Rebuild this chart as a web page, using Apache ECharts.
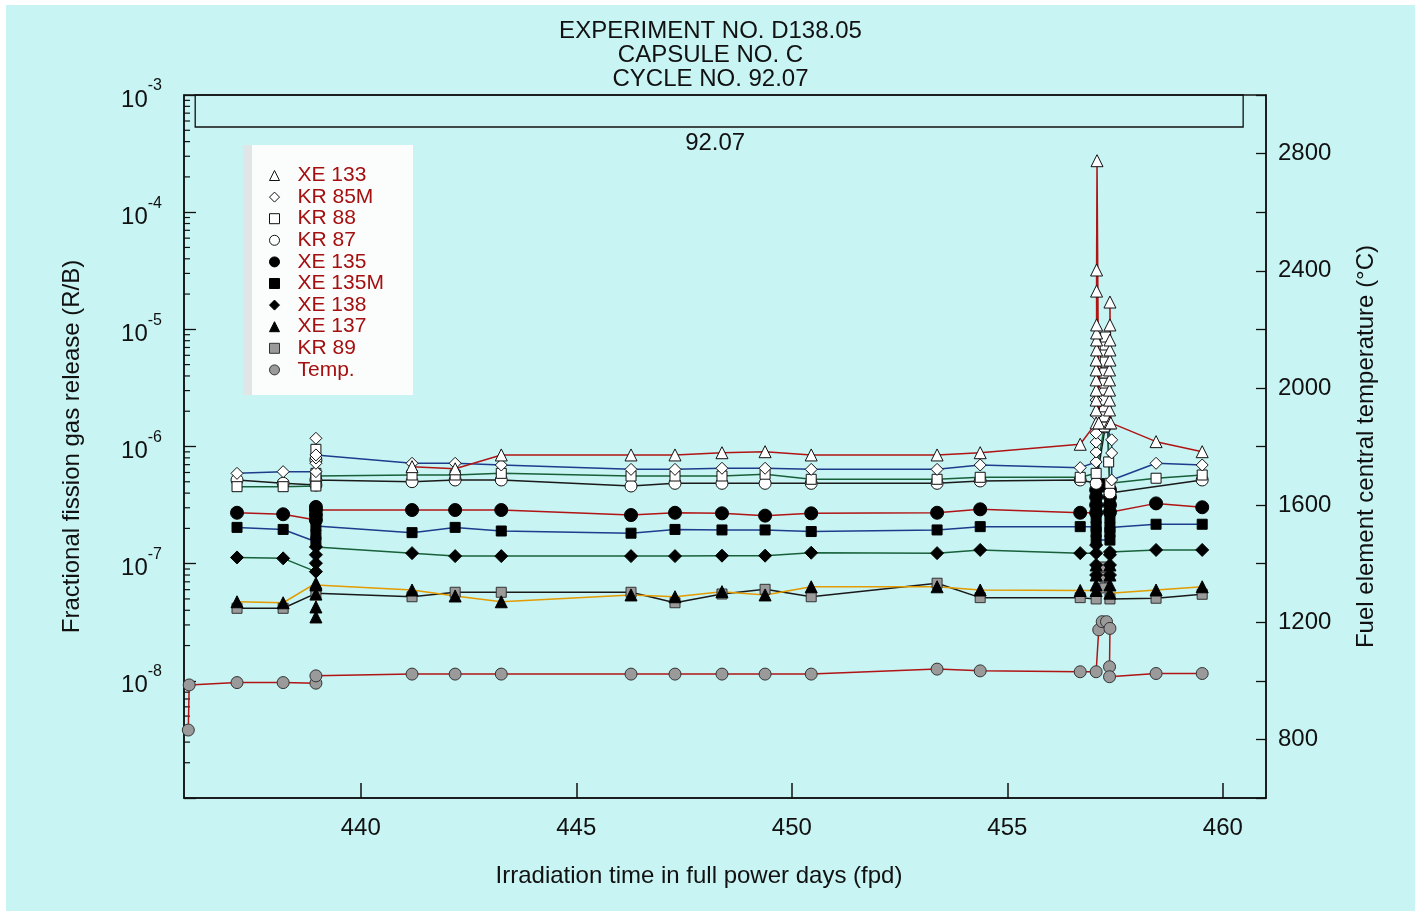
<!DOCTYPE html>
<html><head><meta charset="utf-8">
<script src="https://cdn.jsdelivr.net/npm/echarts@6/dist/echarts.min.js"></script>
<style>
html,body{margin:0;padding:0;background:#fff;}
#bg{position:absolute;left:6px;top:5px;width:1409px;height:906px;background:#c8f4f3;}
#main{position:absolute;left:0;top:0;width:1421px;height:915px;}
</style></head><body>
<div id="bg"></div><div id="main"></div>
<script>
// ---------- data ----------
const titleLines = ['EXPERIMENT NO. D138.05', 'CAPSULE NO. C', 'CYCLE NO. 92.07'];
const xTicks = [440, 445, 450, 455, 460];
const tempLabels = [800, 1200, 1600, 2000, 2400, 2800];
const decades = [-8, -7, -6, -5, -4, -3];
const bandX = [436.16, 460.47];
const bandY = [5.33e-4, 1e-3];
const bandLabel = '92.07';

const xe133 = [[441.19,6.73e-7],[442.19,6.45e-7],[443.26,8.47e-7],[446.27,8.47e-7],[447.29,8.47e-7],[448.38,8.85e-7],[449.38,9.03e-7],[450.45,8.47e-7],[453.37,8.47e-7],[454.37,8.85e-7],[456.69,1.045e-6],
 [457.06,1.59e-6],[457.06,2.05e-6],[457.06,2.49e-6],[457.06,3.03e-6],[457.06,3.70e-6],[457.06,4.50e-6],[457.06,5.47e-6],[457.07,6.67e-6],[457.07,8.11e-6],[457.07,9.31e-6],[457.07,1.09e-5],[457.07,2.12e-5],[457.07,3.21e-5],[457.08,2.75e-4],
 [457.12,1.59e-6],
 [457.37,1.59e-6],[457.37,2.05e-6],[457.37,2.49e-6],[457.37,3.03e-6],[457.37,3.70e-6],[457.37,4.50e-6],[457.38,5.47e-6],[457.38,6.67e-6],[457.38,8.11e-6],[457.38,1.09e-5],[457.38,1.71e-5],[457.40,1.59e-6],
 [458.45,1.10e-6],[459.52,9.03e-7]];
const kr85m = [[437.13,5.90e-7],[438.2,6.10e-7],[438.96,6.10e-7],[438.96,7.19e-7],[438.96,7.98e-7],[438.96,1.175e-6],[438.96,8.47e-7],[441.19,7.19e-7],[442.19,7.19e-7],[443.26,6.95e-7],[446.27,6.38e-7],[447.29,6.38e-7],[448.38,6.52e-7],[449.38,6.52e-7],[450.45,6.38e-7],[453.37,6.38e-7],[454.37,6.95e-7],[456.69,6.6e-7],
 [457.06,7.38e-7],[457.06,8.97e-7],[457.06,1.09e-6],[457.06,1.30e-6],[457.06,1.86e-6],[457.06,2.49e-6],[457.42,1.14e-6],[457.42,8.8e-7],[457.42,5.18e-7],[458.45,7.19e-7],[459.52,6.95e-7]];
const kr88 = [[437.13,4.54e-7],[438.2,4.54e-7],[438.96,4.60e-7],[438.96,5.90e-7],[438.96,9.46e-7],[438.96,5.60e-7],[441.19,5.71e-7],[442.19,5.71e-7],[443.26,5.90e-7],[446.27,5.60e-7],[447.29,5.60e-7],[448.38,5.60e-7],[449.38,5.80e-7],[450.45,5.25e-7],[453.37,5.25e-7],[454.37,5.46e-7],[456.69,5.46e-7],
 [457.06,5.90e-7],[457.25,1.47e-6],[457.25,1.79e-6],[457.25,2.49e-6],[457.26,3.48e-6],[457.26,4.24e-6],[457.27,5.26e-6],[457.27,7.35e-6],[457.28,8.6e-6],[457.35,7.38e-7],[457.38,4.85e-7],[458.45,5.36e-7],[459.52,5.71e-7]];
const kr87 = [[437.13,5.18e-7],[438.2,4.85e-7],[438.96,4.69e-7],[438.96,7.67e-7],[438.96,5.18e-7],[441.19,5.01e-7],[442.19,5.18e-7],[443.26,5.18e-7],[446.27,4.60e-7],[447.29,4.85e-7],[448.38,4.85e-7],[449.38,4.85e-7],[450.45,4.85e-7],[453.37,4.85e-7],[454.37,5.08e-7],[456.69,5.18e-7],
 [457.06,4.85e-7],[457.27,1.47e-6],[457.27,2.05e-6],[457.27,2.92e-6],[457.27,4.33e-6],[457.27,6.28e-6],[457.38,4.01e-7],[459.52,5.18e-7]];
const xe135 = [[437.13,2.72e-7],[438.2,2.64e-7],[438.96,2.36e-7],[438.96,2.60e-7],[438.96,3.05e-7],[438.96,2.87e-7],[441.19,2.87e-7],[442.19,2.87e-7],[443.26,2.87e-7],[446.27,2.60e-7],[447.29,2.72e-7],[448.38,2.69e-7],[449.38,2.57e-7],[450.45,2.69e-7],[453.37,2.72e-7],[454.37,2.91e-7],[456.69,2.72e-7],
 [457.06,2.72e-7],[457.06,3.17e-7],[457.06,3.71e-7],[457.06,4.26e-7],[457.22,4.69e-7],[457.38,4.26e-7],[457.38,3.71e-7],[457.38,3.17e-7],[457.38,2.75e-7],[458.45,3.27e-7],[459.52,3.03e-7]];
const xe135m = [[437.13,2.04e-7],[438.2,1.96e-7],[438.96,1.54e-7],[438.96,1.76e-7],[438.96,2.10e-7],[441.19,1.84e-7],[442.19,2.04e-7],[443.26,1.90e-7],[446.27,1.82e-7],[447.29,1.96e-7],[448.38,1.94e-7],[449.38,1.94e-7],[450.45,1.88e-7],[453.37,1.94e-7],[454.37,2.07e-7],[456.69,2.07e-7],
 [457.06,2.07e-7],[457.06,2.45e-7],[457.06,1.86e-7],[457.06,1.59e-7],[457.38,1.59e-7],[457.38,1.86e-7],[457.38,2.45e-7],[457.38,2.04e-7],[458.45,2.17e-7],[459.52,2.17e-7]];
const xe138 = [[437.13,1.13e-7],[438.2,1.11e-7],[438.96,8.55e-8],[438.96,1.01e-7],[438.96,1.19e-7],[438.96,1.39e-7],[441.19,1.23e-7],[442.19,1.16e-7],[443.26,1.16e-7],[446.27,1.16e-7],[447.29,1.16e-7],[448.38,1.17e-7],[449.38,1.17e-7],[450.45,1.24e-7],[453.37,1.23e-7],[454.37,1.31e-7],[456.69,1.23e-7],
 [457.06,1.23e-7],[457.06,1.44e-7],[457.06,9.75e-8],[457.06,8.0e-8],[457.38,8.0e-8],[457.38,9.75e-8],[457.38,1.19e-7],[457.38,1.26e-7],[458.45,1.31e-7],[459.52,1.31e-7]];
const xe137 = [[437.13,4.73e-8],[438.2,4.64e-8],[438.96,6.81e-8],[438.96,5.50e-8],[438.96,4.27e-8],[438.96,3.51e-8],[438.96,6.58e-8],[441.19,5.96e-8],[442.19,5.30e-8],[443.26,4.73e-8],[446.27,5.41e-8],[447.29,5.22e-8],[448.38,5.77e-8],[449.38,5.41e-8],[450.45,6.35e-8],[453.37,6.35e-8],[454.37,5.96e-8],[456.69,5.90e-8],
 [457.06,5.90e-8],[457.06,6.58e-8],[457.06,8.0e-8],[457.06,9.75e-8],[457.38,9.75e-8],[457.38,8.0e-8],[457.38,6.58e-8],[457.38,5.60e-8],[458.45,5.96e-8],[459.52,6.35e-8]];
const kr89 = [[437.13,4.16e-8],[438.2,4.16e-8],[438.96,5.58e-8],[441.19,5.22e-8],[442.19,5.70e-8],[443.26,5.70e-8],[446.27,5.70e-8],[447.29,4.64e-8],[448.38,5.51e-8],[449.38,6.04e-8],[450.45,5.22e-8],[453.37,6.81e-8],[454.37,5.13e-8],[456.69,5.13e-8],
 [457.06,5.0e-8],[457.26,6.2e-8],[457.26,7.69e-8],[457.26,9.37e-8],[457.38,5.0e-8],[458.45,5.07e-8],[459.52,5.48e-8]];
const temp = [[436.00,832],[436.02,986],[437.13,994],[438.2,994],[438.96,992],[438.96,1017],[441.19,1023],[442.19,1023],[443.26,1023],[446.27,1023],[447.29,1023],[448.38,1023],[449.38,1023],[450.45,1023],[453.37,1040],[454.37,1034],[456.69,1031],
 [457.06,1031],[457.12,1174],[457.2,1202],[457.3,1202],[457.38,1179],[457.37,1048],[457.37,1014],[458.45,1025],[459.52,1025]];

// ---------- style ----------
const FONT = '"Liberation Sans", Arial, Helvetica, sans-serif';
const INK = '#111';
const RED = '#b01414', BLUE = '#1e3c8c', GREEN = '#17603a', ORANGE = '#e39b00', BLACK = '#1a1a1a', GRAY = '#9a9a9a';

function lineSeries(name, data, symbol, size, fill, stroke, lineColor, yIdx) {
  return {
    name, type: 'line', data, yAxisIndex: yIdx || 0, symbol, symbolSize: size, showAllSymbol: true,
    itemStyle: { color: fill, borderColor: stroke, borderWidth: 1 },
    lineStyle: { color: lineColor, width: 1.5 },
    emphasis: { disabled: true }, animation: false
  };
}

// minor log ticks (2..9 x 10^k)
const minorVals = [];
for (let k = -9; k <= -4; k++) for (let m = 2; m <= 9; m++) minorVals.push(m * Math.pow(10, k));
const X_MIN = 435.9, X_MAX = 461;

const seriesList = [
  lineSeries('KR 89', kr89, 'rect', 10, GRAY, '#333', BLACK),
  lineSeries('XE 137', xe137, 'triangle', 12, '#000', '#000', ORANGE),
  lineSeries('XE 138', xe138, 'diamond', 13, '#000', '#000', GREEN),
  lineSeries('XE 135M', xe135m, 'rect', 10, '#000', '#000', BLUE),
  lineSeries('XE 135', xe135, 'circle', 13, '#000', '#000', RED),
  lineSeries('KR 87', kr87, 'circle', 12, '#fff', '#111', BLACK),
  lineSeries('KR 88', kr88, 'rect', 10, '#fff', '#111', GREEN),
  lineSeries('KR 85M', kr85m, 'diamond', 12, '#fff', '#111', BLUE),
  lineSeries('XE 133', xe133, 'triangle', 12, '#fff', '#111', RED),
  lineSeries('Temp.', temp, 'circle', 12, GRAY, '#333', RED, 1)
];
seriesList[8].markArea = {
  silent: true,
  itemStyle: { color: 'rgba(0,0,0,0)', borderColor: INK, borderWidth: 1.3 },
  label: { show: true, position: 'bottom', distance: 4, formatter: bandLabel, fontSize: 24, color: INK, fontFamily: FONT, offset: [-4, 0] },
  data: [[{ xAxis: bandX[0], yAxis: bandY[1] }, { xAxis: bandX[1], yAxis: bandY[0] }]]
};
seriesList.push({
  name: '_minor', type: 'custom', yAxisIndex: 0, silent: true, clip: false, animation: false,
  data: minorVals.map(v => [X_MIN, v]),
  renderItem(params, api) {
    const p = api.coord([api.value(0), api.value(1)]);
    return { type: 'line', shape: { x1: p[0], y1: p[1], x2: p[0] + 6, y2: p[1] }, style: { stroke: INK, lineWidth: 1.2 } };
  }
});

const legendItems = [
  ['XE 133', 'triangle'], ['KR 85M', 'diamond'], ['KR 88', 'rect'], ['KR 87', 'circle'], ['XE 135', 'circle'],
  ['XE 135M', 'rect'], ['XE 138', 'diamond'], ['XE 137', 'triangle'], ['KR 89', 'rect'], ['Temp.', 'circle']
];

const chart = echarts.init(document.getElementById('main'));
chart.setOption({
  animation: false,
  backgroundColor: 'transparent',
  textStyle: { fontFamily: FONT },
  title: {
    text: titleLines.join('\n'), left: 'center', top: 14,
    textStyle: { fontSize: 24, fontWeight: 'normal', color: INK, lineHeight: 24, fontFamily: FONT }
  },
  graphic: [
    { type: 'rect', shape: { x: 243, y: 145, width: 170, height: 250 }, style: { fill: '#fbfdfd' }, z: 1 },
    { type: 'rect', shape: { x: 243, y: 145, width: 9, height: 250 }, style: { fill: '#e0e5e5' }, z: 1 }
  ],
  legend: {
    orient: 'vertical', left: 264, top: 160, itemWidth: 10, itemHeight: 10, itemGap: 0.6, selectedMode: false, z: 5,
    itemStyle: { borderWidth: 1 },
    textStyle: { fontSize: 21, color: '#a50f0f', fontFamily: FONT, padding: [0, 0, 0, 13] },
    data: legendItems.map(d => ({ name: d[0], icon: d[1] }))
  },
  grid: { left: 184, right: 155, top: 95, bottom: 117, show: true, borderColor: INK, borderWidth: 1.5, backgroundColor: 'transparent' },
  xAxis: {
    type: 'value', min: X_MIN, max: X_MAX,
    axisLine: { lineStyle: { color: INK, width: 1.5 } },
    axisTick: { inside: true, length: 15, customValues: xTicks, lineStyle: { color: INK, width: 1.5 } },
    axisLabel: { customValues: xTicks, fontSize: 24, margin: 18, color: INK, fontFamily: FONT },
    splitLine: { show: false },
    name: 'Irradiation time in full power days (fpd)', nameLocation: 'middle', nameGap: 66,
    nameTextStyle: { fontSize: 24, color: INK, fontFamily: FONT, padding: [0, 52, 0, 0] }
  },
  yAxis: [{
    type: 'log', logBase: 10, min: 1e-9, max: 1e-3, splitNumber: 6, position: 'left',
    axisLine: { lineStyle: { color: INK, width: 1.5 } },
    axisTick: { inside: true, length: 12, lineStyle: { color: INK, width: 1.3 } },
    axisLabel: {
      margin: 22, color: INK,
      formatter: v => { const e = Math.round(Math.log10(v)); return decades.indexOf(e) >= 0 ? '{b|10}{s|' + e + '}' : ''; },
      rich: {
        b: { fontSize: 24, lineHeight: 24, padding: [10, 0, 0, 0], color: INK, fontFamily: FONT },
        s: { fontSize: 16, lineHeight: 16, padding: [0, 0, 18, 0], color: INK, fontFamily: FONT }
      }
    },
    splitLine: { show: false },
    name: 'Fractional fission gas release (R/B)', nameLocation: 'middle', nameGap: 100,
    nameTextStyle: { fontSize: 24, color: INK, fontFamily: FONT }
  }, {
    type: 'value', min: 600, max: 3000, interval: 200, position: 'right',
    axisLine: { show: true, lineStyle: { color: INK, width: 1.5 } },
    axisTick: { show: true, inside: true, length: 10, lineStyle: { color: INK, width: 1.3 } },
    axisLabel: { fontSize: 24, margin: 12, color: INK, fontFamily: FONT,
      formatter: v => tempLabels.indexOf(v) >= 0 ? String(v) : '' },
    splitLine: { show: false },
    name: 'Fuel element central temperature (°C)', nameLocation: 'middle', nameGap: 88,
    nameTextStyle: { fontSize: 24, color: INK, fontFamily: FONT }
  }],
  series: seriesList
});
</script></body></html>
